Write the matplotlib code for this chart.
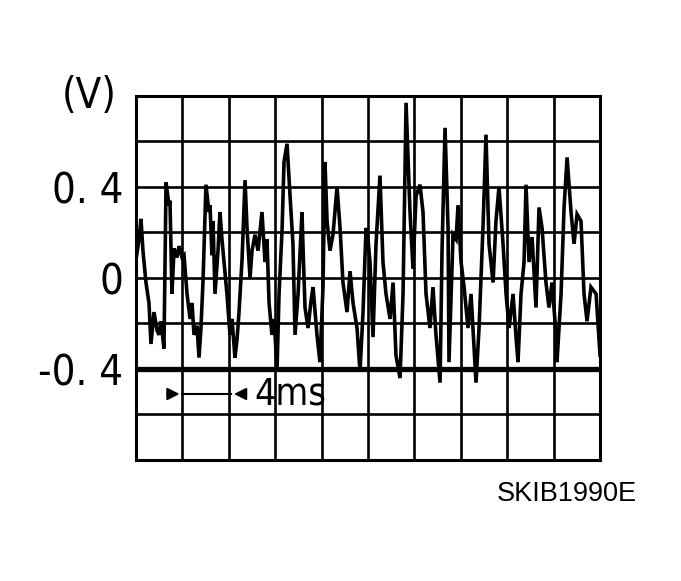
import numpy as np
import matplotlib.pyplot as plt
from matplotlib import font_manager
from matplotlib.font_manager import FontProperties

# buscar una fuente estrecha parecida a la del original
candidatas = [f for f in font_manager.fontManager.ttflist
              if (f.stretch in ('condensed', 'semi-condensed') or 'Narrow' in f.name
                  or 'Condensed' in f.name)
              and f.style == 'normal' and f.weight in (400, 'normal', 'regular')]
candidatas.sort(key=lambda f: (0 if 'Liberation' in f.name else 1 if 'DejaVu' in f.name else 2))
if candidatas:
    ruta = candidatas[0].fname
    def fuente(t):
        return FontProperties(fname=ruta, size=t)
    escala = 1.0
else:
    def fuente(t):
        return FontProperties(family='DejaVu Sans', size=t)
    escala = 0.8

# tiempo (ms) y tension (V)
tiempo = [0.0, 0.26, 0.43, 0.60, 0.86, 1.12, 1.29, 1.55, 1.81, 1.98, 2.16, 2.41, 2.59, 2.84, 2.93,
          3.10, 3.28, 3.53, 3.71, 3.97, 4.14, 4.40, 4.66, 4.83, 5.00, 5.26, 5.43, 5.60, 5.78, 6.03,
          6.29, 6.38, 6.55, 6.64, 6.81, 7.07, 7.24, 7.41, 7.59, 7.84, 8.10, 8.28, 8.53, 8.71, 8.88,
          9.14, 9.40, 9.57, 9.83, 10.00, 10.26, 10.52, 10.86, 11.12, 11.29, 11.47, 11.72, 11.90,
          12.16, 12.33, 12.59, 12.76, 13.02, 13.28, 13.53, 13.71, 13.97, 14.31, 14.40, 14.57, 14.83,
          15.09, 15.26, 15.60, 15.86, 16.12, 16.29, 16.47, 16.72, 16.98, 17.33, 17.59, 17.84, 18.19,
          18.45, 18.71, 19.05, 19.31, 19.57, 19.83, 20.00, 20.17, 20.43, 20.69, 21.03, 21.29, 21.55,
          21.90, 22.16, 22.41, 22.76, 23.02, 23.28, 23.62, 23.88, 24.14, 24.48, 24.74, 25.00, 25.34,
          25.60, 25.86, 26.21, 26.38, 26.64, 26.90, 26.98, 27.33, 27.59, 27.76, 28.02, 28.28, 28.62,
          28.88, 29.31, 29.57, 29.91, 30.17, 30.43, 30.78, 31.03, 31.29, 31.64, 31.90, 32.16, 32.50,
          32.76, 32.93, 33.19, 33.45, 33.62, 33.88, 34.14, 34.48, 34.74, 35.00, 35.34, 35.60, 35.86,
          36.21, 36.29, 36.64, 36.90, 37.16, 37.50, 37.76, 38.02, 38.36, 38.62, 38.88, 39.22, 39.66,
          40.00]
tension = [0.08, 0.17, 0.26, 0.12, -0.02, -0.11, -0.29, -0.15, -0.23, -0.25, -0.19, -0.31, 0.42, 0.32, 0.34,
           -0.07, 0.13, 0.09, 0.14, 0.09, 0.10, -0.07, -0.18, -0.11, -0.25, -0.21, -0.35, -0.22, -0.01, 0.41,
           0.29, 0.32, 0.10, 0.25, -0.07, 0.12, 0.29, 0.17, 0.07, -0.07, -0.25, -0.18, -0.35, -0.27, -0.15,
           0.08, 0.43, 0.22, 0.00, 0.12, 0.19, 0.12, 0.29, 0.07, 0.17, -0.11, -0.25, -0.18,
           -0.40, -0.07, 0.21, 0.51, 0.59, 0.36, 0.15, -0.25, -0.07, 0.29, 0.13, -0.13, -0.22,
           -0.10, -0.04, -0.25, -0.37, -0.04, 0.51, 0.25, 0.12, 0.19, 0.40, 0.22, -0.02, -0.15,
           0.03, -0.11, -0.22, -0.41, -0.15, 0.22, 0.17, 0.07, -0.26, 0.15, 0.45, 0.07, -0.07,
           -0.18, -0.02, -0.34, -0.44, -0.07, 0.77, 0.29, 0.04, 0.36, 0.41, 0.29, -0.07, -0.22,
           -0.04, -0.25, -0.46, 0.12, 0.66, 0.22, -0.37, 0.19, 0.17, 0.32, 0.07, -0.04, -0.22,
           -0.07, -0.46, -0.22, 0.22, 0.63, 0.15, -0.02, 0.25, 0.40, 0.15, -0.07, -0.22, -0.07,
           -0.26, -0.37, -0.07, 0.07, 0.41, 0.07, 0.18, -0.13, 0.31, 0.22, -0.02, -0.13, -0.02,
           -0.25, -0.37, -0.07, 0.31, 0.53, 0.29, 0.15, 0.28, 0.25, -0.07, -0.19, -0.04, -0.07,
           -0.34]

# rejilla del osciloscopio
div_x = np.arange(0, 41, 4)
div_y = [-0.8, -0.6, -0.4, -0.2, 0.0, 0.2, 0.4, 0.6, 0.8]
etiquetas_y = ['', '', '-0. 4', '', '0', '', '0. 4', '', '']

fig = plt.figure(figsize=(6.81, 5.81), dpi=100)
ax = fig.add_axes([0.1997, 0.2083, 0.6814, 0.6265])

ax.plot(tiempo, tension, color='black', linewidth=2.6, solid_joinstyle='miter')
ax.axhline(-0.4, color='black', linewidth=3.8)

ax.set_xlim(0, 40)
ax.set_ylim(-0.8, 0.8)
ax.set_xticks(div_x)
ax.set_xticklabels([])
ax.set_yticks(div_y)
ax.set_yticklabels(etiquetas_y)
for lab in ax.get_yticklabels():
    lab.set_fontproperties(fuente(30 * escala))
ax.tick_params(length=0, pad=9)
ax.grid(color='black', linewidth=1.9)
for s in ax.spines.values():
    s.set_linewidth(2.2)

ax.text(-0.1, 1.0, '(V)', transform=ax.transAxes, fontproperties=fuente(30 * escala),
        ha='center', va='center')

# escala de tiempo
ax.annotate('', xy=(4, -0.51), xytext=(2.5, -0.51),
            arrowprops=dict(arrowstyle='-|>', color='black', lw=1.5, mutation_scale=18))
ax.annotate('', xy=(8.2, -0.51), xytext=(9.7, -0.51),
            arrowprops=dict(arrowstyle='-|>', color='black', lw=1.5, mutation_scale=18))
ax.plot([4, 8.2], [-0.51, -0.51], color='black', linewidth=1.5)
ax.text(10.2, -0.51, '4ms', fontproperties=fuente(27 * escala), ha='left', va='center')

fig.text(567 / 681, 1 - 494 / 581, 'SKIB1990E', fontsize=19.5, family='Liberation Sans',
         ha='center', va='center')

plt.savefig('out.png', dpi=100)
